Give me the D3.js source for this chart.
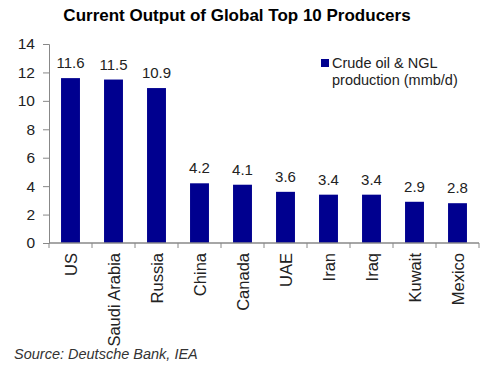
<!DOCTYPE html>
<html>
<head>
<meta charset="utf-8">
<script src="https://cdn.jsdelivr.net/npm/d3@7/dist/d3.min.js"></script>
<style>
  body { margin: 0; background: #fff; }
  text { font-family: "Liberation Sans", Arial, sans-serif; }
</style>
</head>
<body>
<div id="main"></div>
<script>
// data
var countries = ["US", "Saudi Arabia", "Russia", "China", "Canada", "UAE", "Iran", "Iraq", "Kuwait", "Mexico"];
var output = [11.6, 11.5, 10.9, 4.2, 4.1, 3.6, 3.4, 3.4, 2.9, 2.8];
var yTicks = [0, 2, 4, 6, 8, 10, 12, 14];

var width = 500, height = 367;
var padding = {top: 44, right: 21, bottom: 124, left: 49};
var barColor = "#00008f";
var axisColor = "#888";

var svg = d3.select("#main").append("svg")
    .attr("width", width).attr("height", height);

var xScale = d3.scaleBand().domain(countries)
    .range([padding.left, width - padding.right])
    .paddingInner(0.56).paddingOuter(0.28);
var yScale = d3.scaleLinear().domain([0, 14])
    .range([height - padding.bottom, padding.top]);

// title
svg.append("text")
    .attr("x", 237).attr("y", 21)
    .attr("text-anchor", "middle")
    .attr("font-size", 17).attr("font-weight", "bold")
    .text("Current Output of Global Top 10 Producers");

// bars
svg.selectAll("rect.bar").data(output).enter().append("rect")
    .attr("class", "bar")
    .attr("x", function (d, i) { return xScale(countries[i]); })
    .attr("y", function (d) { return yScale(d); })
    .attr("width", xScale.bandwidth())
    .attr("height", function (d) { return yScale(0) - yScale(d); })
    .attr("fill", barColor);

// value labels
svg.selectAll("text.val").data(output).enter().append("text")
    .attr("class", "val")
    .attr("x", function (d, i) { return xScale(countries[i]) + xScale.bandwidth() / 2; })
    .attr("y", function (d) { return yScale(d) - 10; })
    .attr("text-anchor", "middle")
    .attr("font-size", 15).attr("fill", "#222")
    .text(function (d) { return d.toFixed(1); });

// y axis
var yAxis = svg.append("g")
    .attr("transform", "translate(" + padding.left + ",0)")
    .call(d3.axisLeft(yScale).tickValues(yTicks).tickSize(6).tickPadding(8));
yAxis.select(".domain").attr("stroke", axisColor);
yAxis.selectAll(".tick line").attr("stroke", axisColor);
yAxis.selectAll(".tick text").attr("font-size", 15.5).attr("fill", "#222")
    .style("font-family", "Liberation Sans, Arial, sans-serif");

// x axis: baseline with tick marks between categories
var x0 = padding.left, x1 = width - padding.right, y0 = yScale(0);
svg.append("line")
    .attr("x1", x0).attr("x2", x1).attr("y1", y0).attr("y2", y0)
    .attr("stroke", axisColor).attr("stroke-width", 1.5);
var bounds = d3.range(countries.length + 1).map(function (i) {
    return x0 + (x1 - x0) * i / countries.length;
});
svg.selectAll("line.xtick").data(bounds).enter().append("line")
    .attr("class", "xtick")
    .attr("x1", function (d) { return d; }).attr("x2", function (d) { return d; })
    .attr("y1", y0).attr("y2", y0 + 5)
    .attr("stroke", axisColor);

// category labels rotated
svg.selectAll("text.cat").data(countries).enter().append("text")
    .attr("class", "cat")
    .attr("transform", function (d) {
        return "translate(" + (xScale(d) + xScale.bandwidth() / 2 + 6) + "," + (y0 + 10) + ") rotate(-90)";
    })
    .attr("text-anchor", "end")
    .attr("font-size", 16.5).attr("fill", "#222")
    .text(function (d) { return d; });

// legend
svg.append("rect")
    .attr("x", 321).attr("y", 59).attr("width", 8).attr("height", 8)
    .attr("fill", barColor);
svg.append("text")
    .attr("x", 332).attr("y", 68)
    .attr("font-size", 14.5).attr("fill", "#222")
    .text("Crude oil & NGL");
svg.append("text")
    .attr("x", 332).attr("y", 85)
    .attr("font-size", 14.5).attr("fill", "#222")
    .text("production (mmb/d)");

// source
svg.append("text")
    .attr("x", 14).attr("y", 359)
    .attr("font-size", 14.5).attr("font-style", "italic").attr("fill", "#333")
    .text("Source: Deutsche Bank, IEA");
</script>
</body>
</html>
